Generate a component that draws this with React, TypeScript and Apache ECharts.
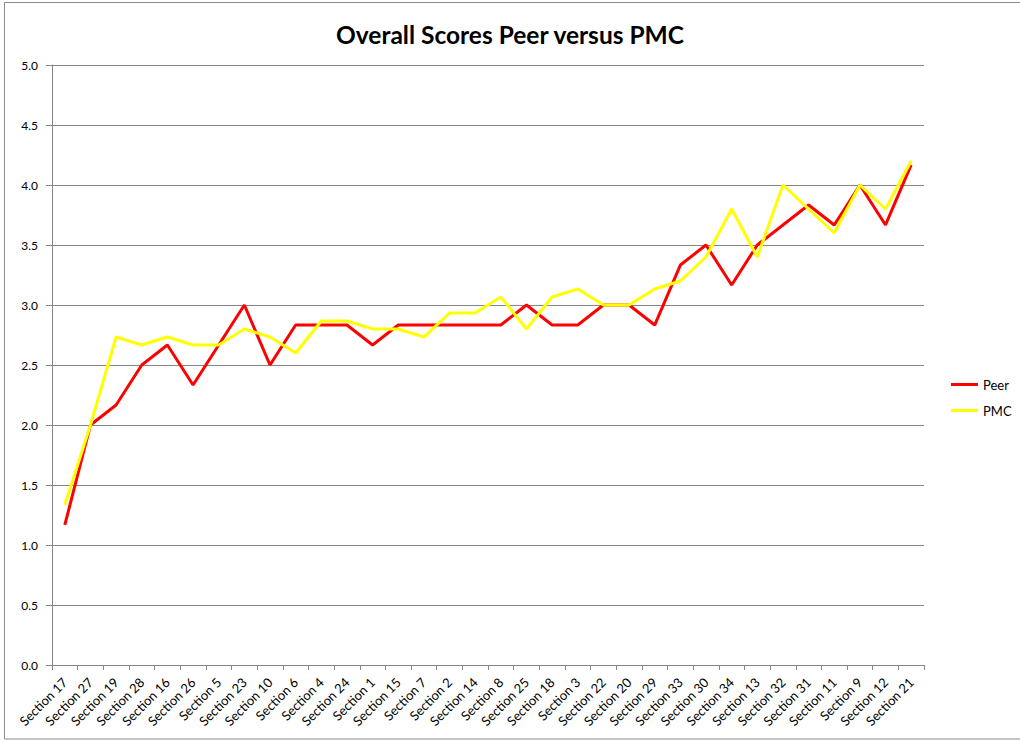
import React, { useEffect, useRef } from "react";
import * as echarts from "echarts";

const categories = [
  "Section 17", "Section 27", "Section 19", "Section 28", "Section 16", "Section 26",
  "Section 5", "Section 23", "Section 10", "Section 6", "Section 4", "Section 24",
  "Section 1", "Section 15", "Section 7", "Section 2", "Section 14", "Section 8",
  "Section 25", "Section 18", "Section 3", "Section 22", "Section 20", "Section 29",
  "Section 33", "Section 30", "Section 34", "Section 13", "Section 32", "Section 31",
  "Section 11", "Section 9", "Section 12", "Section 21",
];

const peer = [
  1.167, 2.0, 2.167, 2.5, 2.667, 2.333, 2.667, 3.0, 2.5, 2.833, 2.833, 2.833,
  2.667, 2.833, 2.833, 2.833, 2.833, 2.833, 3.0, 2.833, 2.833, 3.0, 3.0, 2.833,
  3.333, 3.5, 3.167, 3.5, 3.667, 3.833, 3.667, 4.0, 3.667, 4.167,
];

const pmc = [
  1.333, 2.0, 2.733, 2.667, 2.733, 2.667, 2.667, 2.8, 2.733, 2.6, 2.867, 2.867,
  2.8, 2.8, 2.733, 2.933, 2.933, 3.067, 2.8, 3.067, 3.133, 3.0, 3.0, 3.133,
  3.2, 3.4, 3.8, 3.4, 4.0, 3.8, 3.6, 4.0, 3.8, 4.2,
];

const titleText = "Overall Scores Peer versus PMC";
const FONT = "Lato, 'Open Sans', sans-serif";

export default function App() {
  const ref = useRef<HTMLDivElement>(null);
  useEffect(() => {
    document.body.style.margin = "0";
    if (!ref.current) return;
    const chart = echarts.init(ref.current, undefined, { renderer: "svg" });
    chart.setOption({
      animation: false,
      backgroundColor: "#ffffff",
      textStyle: { fontFamily: FONT },
      title: {
        text: titleText,
        left: "center",
        top: 17,
        textStyle: { fontSize: 24.5, fontWeight: "bold", color: "#000", fontFamily: FONT },
      },
      graphic: [
        {
          type: "rect",
          shape: { x: 4.5, y: 2.5, width: 1040, height: 736.5 },
          style: { fill: "none", stroke: "#8c8c8c", lineWidth: 1 },
          silent: true,
          z: -1,
        },
      ],
      legend: {
        orient: "vertical",
        left: 946,
        top: 373,
        icon: "rect",
        itemWidth: 27,
        itemHeight: 3,
        itemGap: 13,
        textStyle: { fontSize: 13, color: "#000", fontFamily: FONT },
        data: ["Peer", "PMC"],
      },
      grid: { left: 52, right: 96, top: 65, bottom: 77, containLabel: false },
      xAxis: {
        type: "category",
        data: categories,
        boundaryGap: true,
        axisLine: { lineStyle: { color: "#868686", width: 1 } },
        axisTick: { show: true, interval: 0, length: 5, lineStyle: { color: "#868686" } },
        axisLabel: {
          interval: 0,
          rotate: 45,
          fontSize: 13,
          color: "#000",
          margin: 15,
          fontFamily: FONT,
        },
      },
      yAxis: {
        type: "value",
        min: 0,
        max: 5,
        interval: 0.5,
        axisLine: { show: true, lineStyle: { color: "#868686", width: 1 } },
        axisTick: { show: true, length: 6, lineStyle: { color: "#868686" } },
        axisLabel: {
          fontSize: 12,
          color: "#000",
          margin: 14,
          fontFamily: FONT,
          formatter: (v: number) => v.toFixed(1),
        },
        splitLine: { show: true, lineStyle: { color: "#868686", width: 1 } },
      },
      series: [
        {
          name: "Peer",
          type: "line",
          data: peer,
          symbol: "none",
          color: "#ff0000",
          lineStyle: { color: "#ff0000", width: 3 },
          z: 3,
        },
        {
          name: "PMC",
          type: "line",
          data: pmc,
          symbol: "none",
          color: "#ffff00",
          lineStyle: { color: "#ffff00", width: 3 },
          z: 4,
        },
      ],
    });
    return () => chart.dispose();
  }, []);
  return <div ref={ref} style={{ width: 1020, height: 742 }} />;
}
